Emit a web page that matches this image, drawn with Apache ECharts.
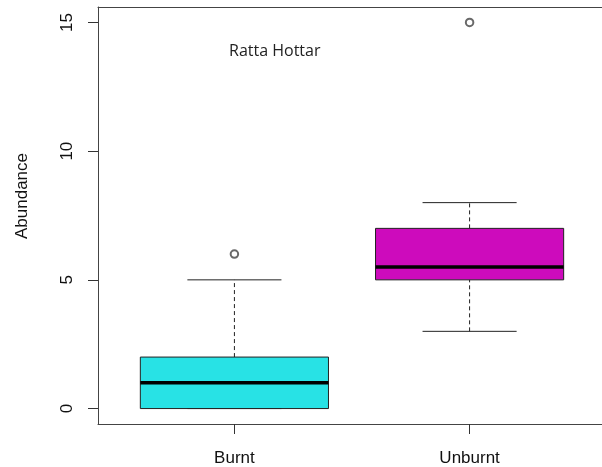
<!DOCTYPE html>
<html>
<head>
<meta charset="utf-8">
<script src="https://cdn.jsdelivr.net/npm/echarts@6/dist/echarts.min.js"></script>
<style>
  html, body { margin: 0; padding: 0; background: #fff; }
  #chart { width: 602px; height: 467px; }
</style>
</head>
<body>
<div id="chart"></div>
<script>
// groups and five-number summaries (min, Q1, median, Q3, max)
const categories = ['Burnt', 'Unburnt'];
const boxStats = [
  [0, 0, 1, 2, 5],
  [3, 5, 5.5, 7, 8]
];
const boxColors = ['#28E2E5', '#CD0BBC'];
// outliers as [group position, value]
const outliers = [[1, 6], [2, 15]];
const yTicks = [0, 5, 10, 15];

const chart = echarts.init(document.getElementById('chart'));

const boxData = boxStats.map((s, i) => [i + 1].concat(s));

function renderBox(params, api) {
  const x = api.value(0);
  const lo = api.value(1), q1 = api.value(2), med = api.value(3), q3 = api.value(4), hi = api.value(5);
  const halfBox = api.size([0.4, 0])[0];
  const halfCap = halfBox / 2;
  const pLo = api.coord([x, lo]), pQ1 = api.coord([x, q1]), pMed = api.coord([x, med]);
  const pQ3 = api.coord([x, q3]), pHi = api.coord([x, hi]);
  const cx = pMed[0];
  const dashed = { stroke: '#222', lineWidth: 1, lineDash: [4, 3] };
  const solid = { stroke: '#222', lineWidth: 1 };
  return {
    type: 'group',
    children: [
      { type: 'line', shape: { x1: cx, y1: pQ3[1], x2: cx, y2: pHi[1] }, style: dashed },
      { type: 'line', shape: { x1: cx, y1: pLo[1], x2: cx, y2: pQ1[1] }, style: dashed },
      { type: 'line', shape: { x1: cx - halfCap, y1: pHi[1], x2: cx + halfCap, y2: pHi[1] }, style: solid },
      { type: 'line', shape: { x1: cx - halfCap, y1: pLo[1], x2: cx + halfCap, y2: pLo[1] }, style: solid },
      {
        type: 'rect',
        shape: { x: cx - halfBox, y: pQ3[1], width: halfBox * 2, height: pQ1[1] - pQ3[1] },
        style: { fill: boxColors[params.dataIndex], stroke: '#222', lineWidth: 1 }
      },
      { type: 'line', shape: { x1: cx - halfBox, y1: pMed[1], x2: cx + halfBox, y2: pMed[1] }, style: { stroke: '#000', lineWidth: 3.5 } }
    ]
  };
}

const frameLine = { show: true, onZero: false, lineStyle: { color: '#444', width: 1 } };

const option = {
  backgroundColor: '#fff',
  animation: false,
  title: {
    text: 'Ratta Hottar',
    left: 224,
    top: 38,
    textStyle: { fontFamily: 'Open Sans', fontSize: 16, fontWeight: 'normal', color: '#222' }
  },
  graphic: [
    {
      type: 'text',
      x: 22,
      y: 196,
      rotation: Math.PI / 2,
      style: {
        text: 'Abundance',
        fontFamily: 'Liberation Sans',
        fontSize: 17,
        fill: '#111',
        align: 'center',
        verticalAlign: 'middle'
      }
    }
  ],
  grid: {
    left: 98, top: 7, width: 508, bottom: 43,
    outerBoundsMode: 'none',
    containLabel: false,
    show: false
  },
  xAxis: [
    {
      type: 'value',
      position: 'bottom',
      min: 0.42,
      max: 2.58,
      splitLine: { show: false },
      axisLine: frameLine,
      axisTick: { show: true, length: 10, customValues: [1, 2], lineStyle: { color: '#333' } },
      axisLabel: {
        customValues: [1, 2],
        margin: 26,
        fontFamily: 'Liberation Sans',
        fontSize: 17,
        color: '#111',
        formatter: v => categories[Math.round(v) - 1] || ''
      }
    },
    {
      // top edge of the plot frame
      type: 'value',
      position: 'top',
      min: 0.42,
      max: 2.58,
      splitLine: { show: false },
      axisLine: frameLine,
      axisTick: { show: false },
      axisLabel: { show: false }
    }
  ],
  yAxis: {
    type: 'value',
    min: -0.6,
    max: 15.6,
    splitLine: { show: false },
    axisLine: frameLine,
    axisTick: { show: true, length: 10, customValues: yTicks, lineStyle: { color: '#333' } },
    axisLabel: {
      customValues: yTicks,
      rotate: 90,
      margin: 22,
      fontFamily: 'Liberation Sans',
      fontSize: 17,
      color: '#111'
    }
  },
  series: [
    {
      type: 'custom',
      renderItem: renderBox,
      encode: { x: 0, y: [1, 2, 3, 4, 5] },
      data: boxData,
      z: 2
    },
    {
      type: 'scatter',
      data: outliers,
      symbol: 'emptyCircle',
      symbolSize: 7.5,
      itemStyle: { color: '#444', borderColor: '#444', borderWidth: 1 },
      z: 3
    }
  ]
};

chart.setOption(option);
</script>
</body>
</html>
